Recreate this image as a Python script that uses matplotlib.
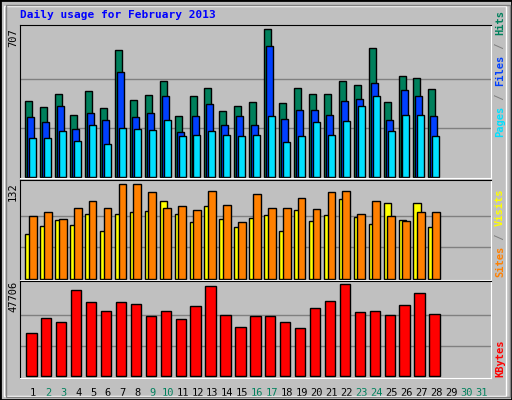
import matplotlib

matplotlib.use("Agg")

import matplotlib.pyplot as plt
from matplotlib.patches import Rectangle

days = list(range(1, 32))
hits = [362, 333, 395, 294, 410, 328, 606, 366, 390, 457, 290, 385, 424, 314,
        338, 357, 707, 352, 424, 395, 395, 457, 438, 616, 357, 481, 472, 419]
files = [285, 261, 338, 227, 304, 270, 501, 285, 304, 385, 213, 290, 347, 246,
         290, 246, 625, 275, 318, 318, 294, 362, 371, 448, 270, 414, 385, 290]
pages = [184, 184, 218, 170, 246, 155, 232, 227, 222, 270, 194, 198, 218, 198,
         194, 198, 290, 165, 194, 261, 198, 266, 338, 385, 218, 294, 294, 194]
visits = [63, 73, 82, 75, 90, 66, 90, 93, 95, 108, 90, 79, 102, 83,
          72, 85, 89, 66, 96, 80, 89, 112, 86, 76, 106, 82, 106, 72]
sites = [88, 93, 83, 99, 109, 99, 132, 132, 121, 99, 102, 96, 123, 103,
         79, 118, 99, 99, 113, 98, 121, 123, 90, 108, 88, 80, 93, 93]
kbytes = [22540, 30400, 28300, 44550, 38790, 34070, 38790, 37740, 31450, 34070,
          29880, 36690, 46650, 31970, 25680, 31450, 31450, 28300, 25160, 35640,
          39310, 47706, 33550, 34070, 31970, 37210, 42980, 32500]
weekend_days = [2, 3, 9, 10, 16, 17, 23, 24, 30, 31]

BG = "#c0c0c0"
GREEN = "#00805c"
MONO = "DejaVu Sans Mono"

W, H = 512, 400
fig = plt.figure(figsize=(W / 100, H / 100), dpi=100, facecolor=BG)

# frame
fig.patches.append(Rectangle((0, 0), 1, 1, transform=fig.transFigure,
                             fill=False, edgecolor="black", lw=2))
fig.patches.append(Rectangle((4 / W, 4 / H), (W - 10) / W, (H - 10) / H,
                             transform=fig.transFigure, fill=False,
                             edgecolor="white", lw=1))
fig.patches.append(Rectangle((6 / W, 3 / H), (W - 8) / W, (H - 8) / H,
                             transform=fig.transFigure, fill=False,
                             edgecolor="#808080", lw=1))


def make_axes(top_px, bottom_px, ymin, ymax, top_val):
    ax = fig.add_axes([20 / W, 1 - bottom_px / H, 471 / W, (bottom_px - top_px) / H])
    ax.set_facecolor(BG)
    ax.set_xlim(0, 31.55)
    ax.set_ylim(ymin, ymax)
    ax.set_xticks([])
    ax.set_yticks([])
    for s in ("top", "left"):
        ax.spines[s].set_color("black")
    for s in ("bottom", "right"):
        ax.spines[s].set_color("white")
    for f in (1 / 3, 2 / 3):
        ax.axhline(top_val * f, color="#808080", lw=1, zorder=0)
    return ax


def bars(ax, values, offset, width, color):
    x = [d - 1 + offset for d in days[: len(values)]]
    ax.bar(x, values, width=width, align="edge", color=color,
           edgecolor="black", linewidth=1, zorder=2)


ax1 = make_axes(25, 178, -6, 728, 707)
bars(ax1, hits, 0.355, 0.47, GREEN)
bars(ax1, files, 0.49, 0.47, "#0040ff")
bars(ax1, pages, 0.62, 0.47, "#00e0ff")

ax2 = make_axes(180, 280, -2, 138, 132)
bars(ax2, visits, 0.355, 0.5, "#ffff00")
bars(ax2, sites, 0.6, 0.52, "#ff8000")

ax3 = make_axes(281, 378, -800, 49436, 47706)
bars(ax3, kbytes, 0.42, 0.69, "#ff0000")

for d in days:
    ax3.text(d - 1 + 0.89, -0.1, str(d), transform=ax3.get_xaxis_transform(),
             ha="center", va="top", fontsize=7.5, family=MONO,
             color=GREEN if d in weekend_days else "black")

fig.text(20 / W, 1 - 15 / H, "Daily usage for February 2013", ha="left",
         va="center", fontsize=8, family=MONO, fontweight="bold", color="#0000ff")

for label, y in (("707", 38), ("132", 192), ("47706", 296)):
    fig.text(13 / W, 1 - y / H, label, rotation=90, ha="center", va="center",
             fontsize=7.5, family=MONO)


def side_legend(parts, bottom_px):
    y = bottom_px
    for word, color in parts:
        t = fig.text(500 / W, 1 - y / H, word, rotation=90, ha="center",
                     va="bottom", fontsize=7.5, family=MONO, fontweight="bold",
                     color=color)
        y -= len(word) * 6.1 + 1


side_legend([("Pages", "#00e0ff"), (" / ", "#808080"), ("Files", "#0040ff"),
             (" / ", "#808080"), ("Hits", GREEN)], 137)
side_legend([("Sites", "#ff8000"), (" / ", "#808080"), ("Visits", "#ffff00")], 277)
side_legend([("KBytes", "#ff0000")], 377)

fig.savefig("out.png", dpi=100, facecolor=BG)
